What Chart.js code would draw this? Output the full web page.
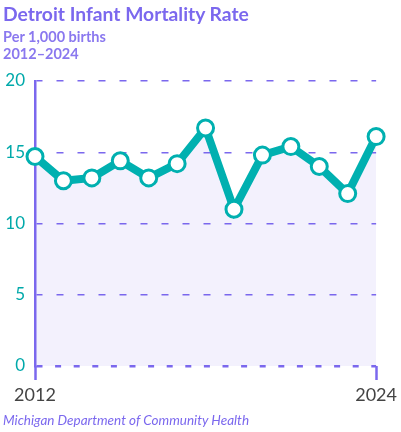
<!DOCTYPE html>
<html>
<head>
<meta charset="utf-8">
<script src="https://cdn.jsdelivr.net/npm/chart.js@4/dist/chart.umd.min.js"></script>
<style>
  html, body { margin: 0; padding: 0; background: #fff; }
  body { width: 401px; height: 432px; position: relative; overflow: hidden; font-family: Lato, "Open Sans", sans-serif; }
  #wrap { position: absolute; left: 0; top: 0; width: 401px; height: 432px; }
  .title { position: absolute; left: 3px; top: 2px; font-size: 19.3px; font-weight: 700; color: #7b68ee; }
  .sub { position: absolute; left: 3px; font-size: 14.5px; font-weight: 700; color: #8a78ef; }
  .source { position: absolute; left: 3px; top: 412px; font-size: 13.5px; font-style: italic; color: #7b68ee; }
</style>
</head>
<body>
<div id="wrap"><canvas id="chart"></canvas></div>
<div class="title">Detroit Infant Mortality Rate</div>
<div class="sub" style="top:28px">Per 1,000 births</div>
<div class="sub" style="top:45px">2012–2024</div>
<div class="source">Michigan Department of Community Health</div>
<script>
// data
const years = ['2012', '2013', '2014', '2015', '2016', '2017', '2018', '2019', '2020', '2021', '2022', '2023', '2024'];
const rates = [14.7, 13.0, 13.2, 14.4, 13.2, 14.2, 16.7, 11.0, 14.8, 15.4, 14.0, 12.1, 16.1];
const yTicks = [0, 5, 10, 15, 20];

const purple = '#7b68ee';
const teal = '#00b0b0';

const ctx = document.getElementById('chart').getContext('2d');

const chart = new Chart(ctx, {
    type: 'line',
    data: {
        labels: years,
        datasets: [{
            data: rates,
            borderColor: teal,
            borderWidth: 8,
            tension: 0,
            fill: 'origin',
            backgroundColor: 'rgba(123, 104, 238, 0.09)',
            pointRadius: 8,
            pointHoverRadius: 8,
            pointBorderWidth: 3,
            pointBackgroundColor: '#fff',
            pointBorderColor: teal,
            clip: false
        }]
    },
    options: {
        responsive: true,
        maintainAspectRatio: false,
        animation: false,
        layout: {
            padding: { top: 81, right: 23, bottom: 26, left: 0 }
        },
        plugins: {
            legend: { display: false },
            tooltip: { enabled: false }
        },
        scales: {
            x: {
                offset: false,
                border: { display: false },
                grid: {
                    drawOnChartArea: false,
                    drawTicks: true,
                    tickLength: 14,
                    tickWidth: 2.5,
                    tickColor: (c) => (c.index === 0 || c.index === years.length - 1) ? purple : 'rgba(0,0,0,0)'
                },
                ticks: {
                    autoSkip: false,
                    maxRotation: 0,
                    padding: 4,
                    color: '#444',
                    font: { family: 'Lato', size: 18 },
                    callback: function (value, index) {
                        return (index === 0 || index === years.length - 1) ? years[index] : '';
                    }
                },
                afterFit: (scale) => { scale.height = 40; }
            },
            y: {
                min: 0,
                max: 20,
                afterBuildTicks: (scale) => { scale.ticks = yTicks.map(v => ({ value: v })); },
                border: {
                    display: true,
                    color: purple,
                    width: 2.5,
                    dash: (c) => (c.tick && c.tick.value === 0) ? [6, 12.6] : [7, 14],
                    dashOffset: (c) => (c.tick && c.tick.value === 0) ? 0 : 1
                },
                grid: {
                    drawTicks: false,
                    color: purple,
                    lineWidth: (c) => (c.tick && c.tick.value === 0) ? 2.5 : 1.5
                },
                ticks: {
                    padding: 10,
                    color: '#00a9aa',
                    font: { family: 'Lato', size: 17 }
                },
                afterFit: (scale) => { scale.width = 35; }
            }
        }
    }
});
</script>
</body>
</html>
